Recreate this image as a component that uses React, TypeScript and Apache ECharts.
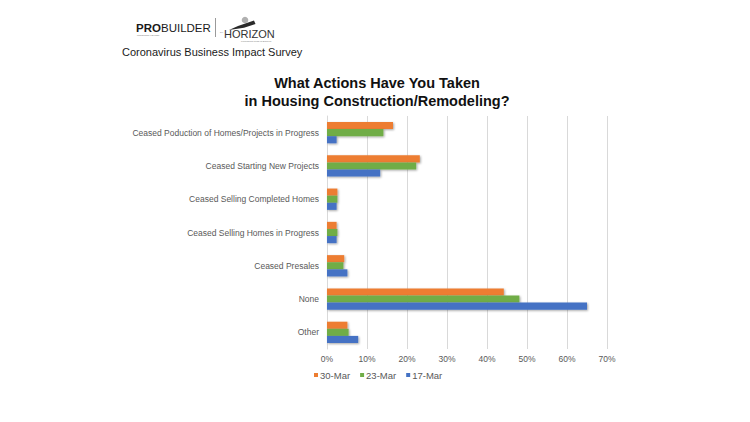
import React, { useEffect, useRef } from "react";
import * as echarts from "echarts";

const categories = [
  "Ceased Poduction of Homes/Projects in Progress",
  "Ceased Starting New Projects",
  "Ceased Selling Completed Homes",
  "Ceased Selling Homes in Progress",
  "Ceased Presales",
  "None",
  "Other",
];
const seriesNames = ["30-Mar", "23-Mar", "17-Mar"];
const mar30 = [16.5, 23.2, 2.6, 2.4, 4.3, 44.2, 5.1];
const mar23 = [14.1, 22.3, 2.6, 2.6, 4.1, 48.1, 5.4];
const mar17 = [2.4, 13.3, 2.4, 2.4, 5.1, 65.0, 7.8];
const xTicks = [0, 10, 20, 30, 40, 50, 60, 70];
const colors = ["#ED7D31", "#70AD47", "#4472C4"];

const FONT = "'Liberation Sans', Arial, Helvetica, sans-serif";

export default function App() {
  const ref = useRef<HTMLDivElement>(null);
  useEffect(() => {
    if (!ref.current) return;
    const chart = echarts.init(ref.current, null, { renderer: "svg" });
    const data = [mar30, mar23, mar17];
    chart.setOption({
      animation: false,
      backgroundColor: "#ffffff",
      textStyle: { fontFamily: FONT },
      title: {
        text: "What Actions Have You Taken\nin Housing Construction/Remodeling?",
        left: 372,
        textAlign: "center",
        top: 69,
        textStyle: {
          fontFamily: FONT,
          fontSize: 14.5,
          fontWeight: "bold",
          color: "#111111",
          lineHeight: 18,
        },
      },
      legend: {
        data: seriesNames,
        left: 314,
        top: 370,
        padding: 0,
        icon: "rect",
        itemWidth: 4,
        itemHeight: 4,
        itemGap: 10,
        textStyle: { fontFamily: FONT, fontSize: 9.5, color: "#595959", padding: [0, 0, 0, -3] },
      },
      grid: { left: 327, right: 143, top: 116, bottom: 73, containLabel: false },
      xAxis: {
        type: "value",
        min: xTicks[0],
        max: xTicks[xTicks.length - 1],
        interval: 10,
        axisLine: { show: false },
        axisTick: { show: false },
        splitLine: { show: true, lineStyle: { color: "#d9d9d9", width: 1 } },
        axisLabel: {
          formatter: "{value}%",
          fontFamily: FONT,
          fontSize: 8.5,
          color: "#595959",
          margin: 5,
        },
      },
      yAxis: {
        type: "category",
        data: categories,
        inverse: true,
        axisLine: { show: true, lineStyle: { color: "#d9d9d9" } },
        axisTick: { show: false },
        axisLabel: {
          fontFamily: FONT,
          fontSize: 8.5,
          color: "#595959",
          margin: 8,
        },
      },
      series: seriesNames.map((name, i) => ({
        name,
        type: "bar",
        data: data[i],
        barGap: "0%",
        barCategoryGap: "36%",
        itemStyle: {
          color: colors[i],
          shadowColor: "rgba(0,0,0,0.35)",
          shadowBlur: 2,
          shadowOffsetX: 1,
          shadowOffsetY: 1,
        },
      })),
      graphic: [
        {
          type: "text",
          left: 136,
          top: 21.5,
          style: { text: "PRO", fontFamily: FONT, fontSize: 11.5, lineHeight: 11.5, fontWeight: "bold", fill: "#1a1a1a" },
        },
        {
          type: "text",
          left: 161,
          top: 21.5,
          style: { text: "BUILDER", fontFamily: FONT, fontSize: 11.5, lineHeight: 11.5, fill: "#1a1a1a" },
        },
        {
          type: "text",
          left: 137,
          top: 33.5,
          style: { text: "PROFESSIONAL BUILDER", fontFamily: FONT, fontSize: 1.8, lineHeight: 2, fill: "#777777" },
        },
        {
          type: "line",
          shape: { x1: 215.5, y1: 18, x2: 215.5, y2: 37 },
          style: { stroke: "#9a9a9a", lineWidth: 1 },
        },
        {
          type: "circle",
          shape: { cx: 245, cy: 20, r: 3.3 },
          style: { fill: "#b0b0b0" },
        },
        {
          type: "polygon",
          shape: {
            points: [
              [229, 30],
              [238, 26],
              [254, 20.5],
              [255.5, 24],
              [244, 27.8],
            ],
          },
          style: { fill: "#2a2a2a" },
        },
        {
          type: "text",
          left: 220,
          top: 31,
          style: { text: "bei", fontFamily: FONT, fontSize: 2.2, lineHeight: 2.5, fill: "#777777" },
        },
        {
          type: "text",
          left: 224,
          top: 28,
          style: { text: "HORIZON", fontFamily: FONT, fontSize: 11, lineHeight: 11, fill: "#333333" },
        },
        {
          type: "text",
          left: 241,
          top: 39.5,
          style: { text: "Personalized Media for Business", fontFamily: FONT, fontSize: 2.1, lineHeight: 2.4, fill: "#777777" },
        },
        {
          type: "text",
          left: 122,
          top: 46,
          style: { text: "Coronavirus Business Impact Survey", fontFamily: FONT, fontSize: 11, fill: "#1a1a1a" },
        },
      ],
    });
    return () => chart.dispose();
  }, []);
  return <div ref={ref} style={{ width: 750, height: 422, margin: -8 }} />;
}
